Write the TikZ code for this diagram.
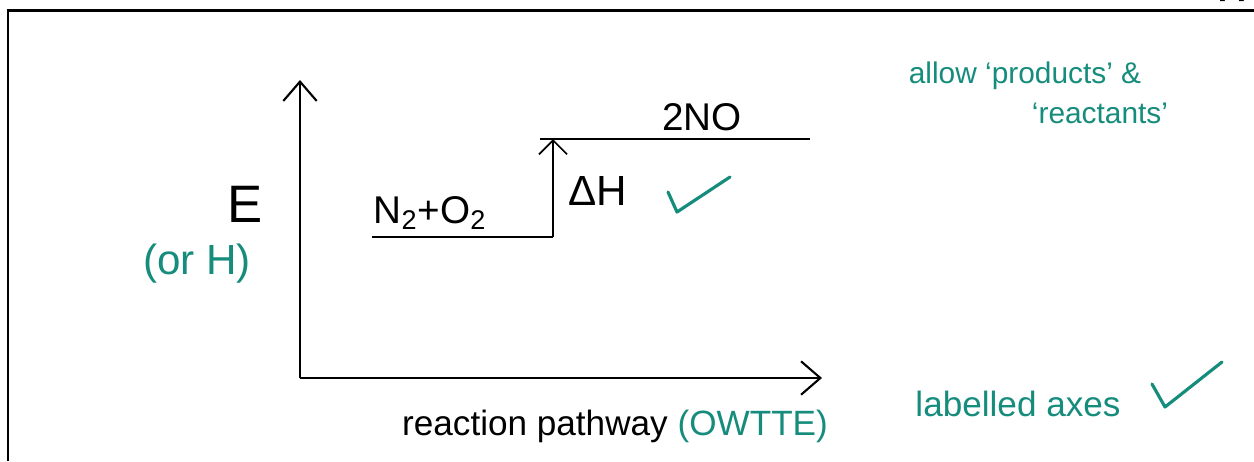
\documentclass[tikz,border=0pt]{standalone}
\usepackage{fontspec}
\setmainfont{Liberation Sans}
\usetikzlibrary{positioning,arrows.meta}
\definecolor{markteal}{RGB}{22,140,125}

\begin{document}
\begin{tikzpicture}[x=0.02cm,y=-0.02cm,
  handtext/.style={font=\fontsize{#1}{#1}\selectfont},
  examnote/.style={text=markteal},
  tickline/.style={draw=markteal,line width=1.8pt,line join=round,line cap=round},
  axisline/.style={line width=1.2pt,-{Straight Barb[length=11pt,width=19pt]}},
  levelline/.style={line width=1pt},
  dhline/.style={line width=1pt,-{Straight Barb[length=8pt,width=16pt]}}]
\useasboundingbox (0,0) rectangle (1254,461);
\draw[line width=1.7pt] (8,461) -- (8,10) -- (1254,10);
\node (total) [handtext=14,anchor=south] at (1232,8) {[2]};

% axes
\coordinate (o) at (300,378);
\coordinate (ytop) at (300,80);
\coordinate (xend) at (822,378);
\draw[axisline] (o) -- (ytop);
\draw[axisline] (o) -- (xend);
\node (yname) [handtext=30] at (245,204) {E};
\node (yalt) [handtext=24,examnote] at (197,264) {(or H)};
\node (xname) [handtext=20] at (615,426) {reaction pathway \textcolor{markteal}{(OWTTE)}};

% levels
\coordinate (rL) at (372,237);
\coordinate (rR) at (553,237);
\coordinate (pL) at (540,139);
\coordinate (pR) at (810,139);
\draw[levelline] (rL) -- (rR);
\draw[levelline] (pL) -- (pR);
\draw[dhline] (rR) -- (rR |- pL);
\node (react) [handtext=22] at (430,213) {N\textsubscript{2}+O\textsubscript{2}};
\node (prod) [handtext=22] at (702,117) {2NO};
\node (dh) [handtext=24] at (598,191) {ΔH};
\draw[tickline] (668,192) -- (677,212) -- (730,177);

% marking notes
\node (allow) [handtext=17,examnote] at (1025,76) {allow ‘products’ \&};
\node (allowb) [handtext=17,examnote] at (1100,113) {‘reactants’};
\node (axeslbl) [handtext=20,examnote] at (1018,404) {labelled axes};
\draw[tickline] (1152,384) -- (1165,407) -- (1222,362);
\end{tikzpicture}
\end{document}
